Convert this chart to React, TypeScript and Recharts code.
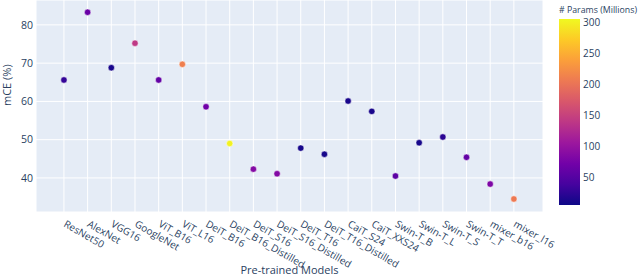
import { ScatterChart, Scatter, XAxis, YAxis, CartesianGrid, Cell } from "recharts";

const models = [
  "ResNet50", "AlexNet", "VGG16", "GoogleNet", "ViT_B16", "ViT_L16", "DeiT_B16",
  "DeiT_B16_Distilled", "DeiT_S16", "DeiT_S16_Distilled", "DeiT_T16", "DeiT_T16_Distilled",
  "CaiT_S24", "CaiT_XXS24", "Swin-T_B", "Swin-T_L", "Swin-T_S", "Swin-T_T", "mixer_b16", "mixer_l16",
];
const mce = [65.6, 83.3, 68.8, 75.2, 65.6, 69.7, 58.6, 49.0, 42.3, 41.1, 47.8, 46.2, 60.1, 57.4, 40.5, 49.2, 50.7, 45.4, 38.4, 34.5];
const params = [28, 65, 12, 140, 60, 210, 70, 300, 85, 85, 10, 10, 12, 12, 55, 10, 22, 60, 80, 205];
const yTicks = [40, 50, 60, 70, 80];
const cbTicks = [50, 100, 150, 200, 250, 300];

const PLASMA = ["#0d0887", "#46039f", "#7201a8", "#9c179e", "#bd3786", "#d8576b", "#ed7953", "#fb9f3a", "#fdca26", "#f0f921"];
const CMIN = 5;
const CMAX = 305;

function hex(c: string) {
  return [1, 3, 5].map((i) => parseInt(c.slice(i, i + 2), 16));
}
function plasma(v: number) {
  const t = Math.max(0, Math.min(1, (v - CMIN) / (CMAX - CMIN))) * (PLASMA.length - 1);
  const i = Math.min(PLASMA.length - 2, Math.floor(t));
  const f = t - i;
  const a = hex(PLASMA[i]);
  const b = hex(PLASMA[i + 1]);
  const m = a.map((x, k) => Math.round(x + (b[k] - x) * f));
  return `rgb(${m[0]},${m[1]},${m[2]})`;
}

const data = models.map((name, i) => ({ idx: i, name, mce: mce[i], params: params[i] }));

const TXT = "#2a3f5f";
const FONT = "'Open Sans', verdana, arial, sans-serif";

function XTick(props: any) {
  const { x, y, payload } = props;
  const tx = x - 1;
  const ty = y + 6;
  return (
    <text x={tx} y={ty} transform={`rotate(30, ${tx}, ${ty})`} textAnchor="start" fontSize={10} fill={TXT} fontFamily={FONT}>
      {models[payload.value]}
    </text>
  );
}

function Dot(props: any) {
  const { cx, cy, fill } = props;
  return <circle cx={cx} cy={cy} r={3.2} fill={fill} stroke="#ffffff" strokeWidth={0.5} />;
}

function ColorBar() {
  const top = 19;
  const bottom = 205;
  const scale = (v: number) => bottom - ((v - CMIN) / (CMAX - CMIN)) * (bottom - top);
  return (
    <svg width={640} height={276} style={{ position: "absolute", left: 0, top: 0, pointerEvents: "none" }}>
      <defs>
        <linearGradient id="plasma" x1="0" y1="1" x2="0" y2="0">
          {PLASMA.map((c, i) => (
            <stop key={i} offset={i / (PLASMA.length - 1)} stopColor={c} />
          ))}
        </linearGradient>
      </defs>
      <text x={559} y={13} fontSize={9} fill={TXT} fontFamily={FONT} textLength={78} lengthAdjust="spacingAndGlyphs"># Params (Millions)</text>
      <rect x={559} y={top} width={21} height={bottom - top} fill="url(#plasma)" />
      {cbTicks.map((t) => (
        <text key={t} x={583} y={scale(t) + 3.5} fontSize={10} fill={TXT} fontFamily={FONT}>{t}</text>
      ))}
    </svg>
  );
}

export default function App() {
  return (
    <div style={{ position: "absolute", left: 0, top: 0, width: 640, height: 276, background: "#fff" }}>
      <ScatterChart width={640} height={276} margin={{ top: 0, right: 97, bottom: 0, left: 0 }}>
        <CartesianGrid stroke="#ffffff" strokeWidth={1} fill="#e5ecf6" />
        <XAxis
          type="number"
          dataKey="idx"
          domain={[-1.18, 20.23]}
          ticks={models.map((_, i) => i)}
          interval={0}
          allowDataOverflow
          height={64}
          axisLine={false}
          tickLine={false}
          tick={<XTick />}
          label={{ value: "Pre-trained Models", position: "insideBottom", offset: 2, fill: TXT, fontSize: 11, fontFamily: FONT }}
        />
        <YAxis
          type="number"
          dataKey="mce"
          domain={[31.1, 86.5]}
          ticks={yTicks}
          allowDataOverflow
          width={36}
          axisLine={false}
          tickLine={false}
          tickSize={0}
          tickMargin={3}
          tick={{ fill: TXT, fontSize: 10.5, fontFamily: FONT }}
          label={{ value: "mCE (%)", angle: -90, position: "insideLeft", offset: 7, fill: TXT, fontSize: 11, fontFamily: FONT }}
        />
        <Scatter data={data} isAnimationActive={false} shape={<Dot />}>
          {data.map((d) => (
            <Cell key={d.name} fill={plasma(d.params)} />
          ))}
        </Scatter>
      </ScatterChart>
      <ColorBar />
    </div>
  );
}
